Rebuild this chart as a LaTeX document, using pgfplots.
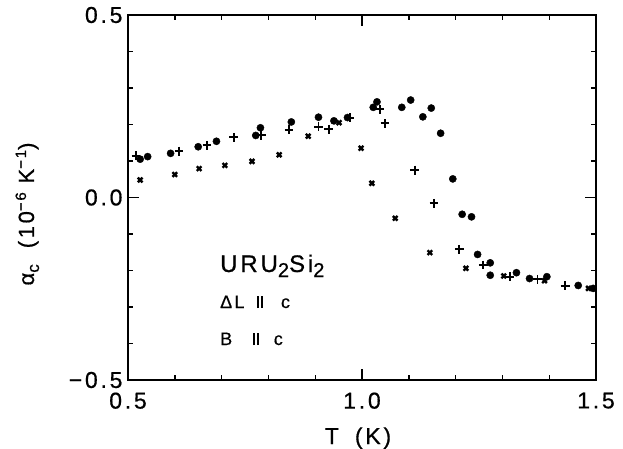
\documentclass[border=0pt]{standalone}
\usepackage{fontspec}
\setmainfont{Liberation Sans}[LetterSpace=12,FakeBold=0.6]
\usepackage{pgfplots}
\pgfplotsset{compat=1.18}
\pgfplotstableread{
x y
0.526 0.105
0.542 0.112
0.591 0.121
0.650 0.139
0.689 0.154
0.773 0.170
0.783 0.191
0.849 0.207
0.907 0.220
0.940 0.210
0.969 0.219
1.024 0.247
1.032 0.262
1.085 0.247
1.104 0.267
1.130 0.221
1.148 0.245
1.168 0.176
1.194 0.051
1.214 -0.046
1.234 -0.053
1.247 -0.156
1.274 -0.179
1.274 -0.213
1.330 -0.206
1.358 -0.222
1.395 -0.217
1.462 -0.241
1.494 -0.249
}\circdata
\pgfplotstableread{
x y
0.517 0.114
0.609 0.127
0.669 0.143
0.726 0.165
0.785 0.170
0.844 0.186
0.907 0.194
0.929 0.187
0.974 0.219
1.038 0.242
1.049 0.203
1.113 0.075
1.154 -0.016
1.208 -0.142
1.259 -0.185
1.316 -0.217
1.375 -0.224
1.434 -0.242
}\plusdata
\pgfplotstableread{
x y
0.526 0.048
0.600 0.063
0.652 0.079
0.707 0.088
0.765 0.099
0.823 0.117
0.885 0.168
0.951 0.205
0.998 0.135
1.021 0.039
1.071 -0.057
1.145 -0.151
1.222 -0.194
1.303 -0.215
1.390 -0.228
1.484 -0.249
}\crossdata
\newcommand{\para}{\rule{1.7pt}{12pt}\kern2.2pt\rule{1.7pt}{12pt}}
\begin{document}
\begin{tikzpicture}[x=1pt,y=1pt]
\useasboundingbox (-128,-68) rectangle (495,380);
\begin{axis}[
  at={(0,0)}, anchor=south west,
  scale only axis, width=468pt, height=365pt,
  xmin=0.5, xmax=1.5, ymin=-0.5, ymax=0.5,
  xtick={0.5,1.0,1.5}, ytick={-0.5,0,0.5},
  xticklabels={0.5,1.0,1.5}, yticklabels={−0.5,0.0,0.5},
  minor tick num=4,
  tick align=inside,
  major tick length=11pt, minor tick length=5pt,
  axis line style={line width=1.6pt},
  every tick/.style={line width=1.4pt, black},
  tick label style={font=\fontsize{23}{26}\selectfont},
  xticklabel style={yshift=-9pt},
  yticklabel style={xshift=-2pt},
  clip=false,
]
\addplot[only marks, mark=*, mark size=3.6pt, black] table {\circdata};
\addplot[only marks, mark=+, mark size=4.4pt, black, mark options={line width=1.9pt}] table {\plusdata};
\addplot[only marks, mark=x, mark size=3.3pt, black, mark options={line width=2.4pt}] table {\crossdata};
\end{axis}
\node[anchor=base west, inner sep=0pt] at (92,108) {\fontsize{24}{28}\selectfont URU\raisebox{-5pt}{\fontsize{20}{20}\selectfont 2}Si\raisebox{-5pt}{\fontsize{20}{20}\selectfont 2}};
\node[anchor=base west, inner sep=0pt] at (92,72) {\fontsize{18}{20}\selectfont ΔL\hspace{13pt}\para\hspace{18pt}c};
\node[anchor=base west, inner sep=0pt] at (92,35) {\fontsize{18}{20}\selectfont B\hspace{21pt}\para\hspace{15pt}c};
\node[anchor=base, inner sep=0pt] at (230,-64) {\fontsize{23}{26}\selectfont T\hspace{16pt}(K)};
\node[rotate=90, anchor=base, inner sep=0pt] at (-94,166) {\fontsize{22}{24}\selectfont α\raisebox{-5pt}{\fontsize{17}{17}\selectfont c}\hspace{16pt}(10\raisebox{8pt}{\fontsize{15}{15}\selectfont −6} K\raisebox{8pt}{\fontsize{15}{15}\selectfont −1})};
\end{tikzpicture}
\end{document}
